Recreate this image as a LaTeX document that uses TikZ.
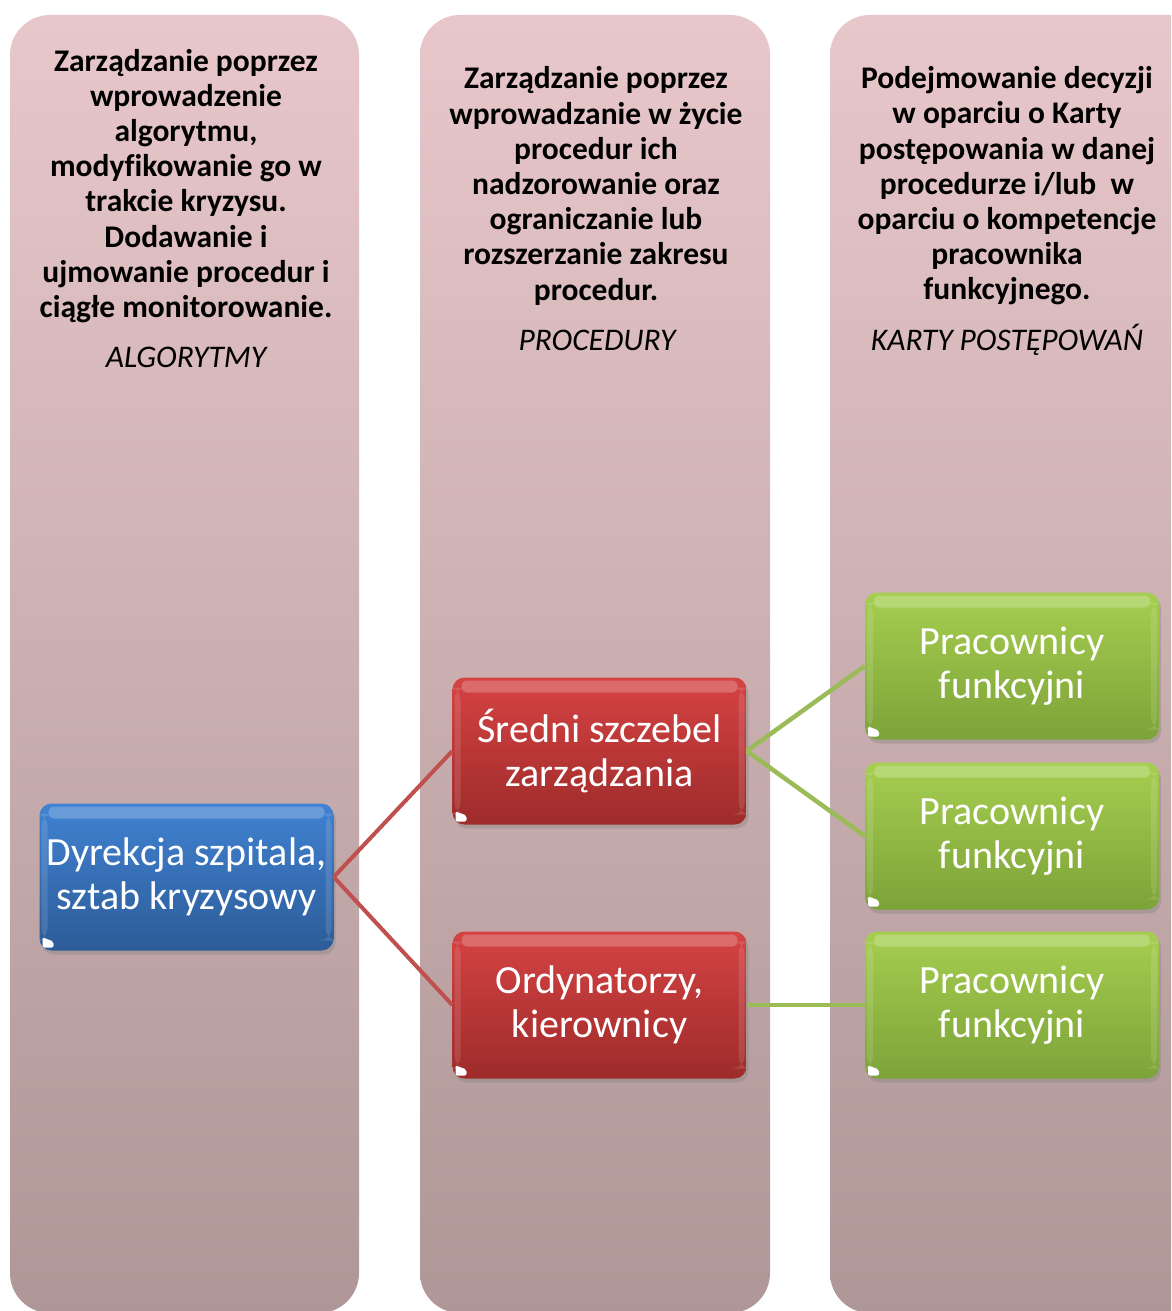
\documentclass[tikz,border=0pt]{standalone}
\usepackage{fontspec}
\setmainfont{Carlito}[Ligatures=NoCommon]
\usetikzlibrary{shadows}

\definecolor{colTop}{HTML}{E8C7CB}
\definecolor{colBot}{HTML}{AE9796}
\definecolor{blueTop}{HTML}{4182D2}
\definecolor{blueBot}{HTML}{2C5C98}
\definecolor{redTop}{HTML}{D64343}
\definecolor{redBot}{HTML}{9E2B2B}
\definecolor{greenTop}{HTML}{A6CE50}
\definecolor{greenBot}{HTML}{7CA338}
\definecolor{redLine}{HTML}{C0504D}
\definecolor{greenLine}{HTML}{9BBB59}

\tikzset{
  column/.style={rounded corners=40pt, top color=colTop, bottom color=colBot, draw=none},
  headtext/.style={align=center, font=\bfseries\fontsize{31.5}{35.2}\selectfont, inner sep=0pt},
  tagtext/.style={align=center, font=\itshape\fontsize{31.5}{35}\selectfont, inner sep=0pt},
  glossbox/.style={rounded corners=12pt, minimum width=294pt, minimum height=147pt,
    inner sep=0pt, text=white, align=center, font=\fontsize{40}{44}\selectfont,
    drop shadow={opacity=0.35, shadow xshift=2pt, shadow yshift=-4pt},
    path picture={
      \fill[white, opacity=0.22, rounded corners=5pt]
        ([xshift=9pt,yshift=-3pt]path picture bounding box.north west)
        rectangle ([xshift=-9pt,yshift=-15pt]path picture bounding box.north east);
      \fill[white, opacity=0.12]
        ([xshift=2pt,yshift=-10pt]path picture bounding box.north west)
        rectangle ([xshift=8pt,yshift=10pt]path picture bounding box.south west);
      \fill[white, opacity=0.12]
        ([xshift=-8pt,yshift=-10pt]path picture bounding box.north east)
        rectangle ([xshift=-2pt,yshift=10pt]path picture bounding box.south east);
      \fill[white, rounded corners=2pt]
        ([xshift=3pt,yshift=3pt]path picture bounding box.south west)
        -- ++(11pt,0pt) -- ++(0pt,6pt) -- ++(-11pt,4pt) -- cycle;
    }},
  bluebox/.style={glossbox, top color=blueTop, bottom color=blueBot},
  redbox/.style={glossbox, top color=redTop, bottom color=redBot},
  greenbox/.style={glossbox, top color=greenTop, bottom color=greenBot},
  redlink/.style={draw=redLine, line width=4pt},
  greenlink/.style={draw=greenLine, line width=4.5pt}
}

\begin{document}
\begin{tikzpicture}[x=1pt, y=-1pt]
  \useasboundingbox (0,0) rectangle (1171,1311);
  \clip (0,0) rectangle (1171,1311);

  % three background columns
  \fill[white] (0,0) rectangle (1171,1311);
  \path[column] (10,15) rectangle (359,1313);
  \path[column] (420,15) rectangle (770,1313);
  \path[column] (830,15) rectangle (1215,1313);

  % column headings
  \node[headtext] (h1) at (186,186) {Zarządzanie poprzez\\wprowadzenie\\algorytmu,\\modyfikowanie go w\\trakcie kryzysu.\\Dodawanie i\\ujmowanie procedur i\\ciągłe monitorowanie.};
  \node[tagtext] (t1) at (186,357) {ALGORYTMY};

  \node[headtext] (h2) at (596,186) {Zarządzanie poprzez\\wprowadzanie w życie\\procedur ich\\nadzorowanie oraz\\ograniczanie lub\\rozszerzanie zakresu\\procedur.};
  \node[tagtext] (t2) at (597,340) {PROCEDURY};

  \node[headtext] (h3) at (1007,186) {Podejmowanie decyzji\\w oparciu o Karty\\postępowania w danej\\procedurze i/lub\ \ w\\oparciu o kompetencje\\pracownika\\funkcyjnego.};
  \node[tagtext] (t3) at (1007,340) {KARTY POSTĘPOWAŃ};

  % hierarchy boxes
  \node[bluebox] (dyr) at (186.5,877) {Dyrekcja szpitala,\\sztab kryzysowy};
  \node[redbox] (sred) at (599.5,751) {Średni szczebel\\zarządzania};
  \node[redbox] (ord) at (599.5,1005) {Ordynatorzy,\\kierownicy};
  \node[greenbox] (p1) at (1012,666) {Pracownicy\\funkcyjni};
  \node[greenbox] (p2) at (1012,836) {Pracownicy\\funkcyjni};
  \node[greenbox] (p3) at (1012,1005) {Pracownicy\\funkcyjni};

  % connectors
  \draw[redlink] (dyr.east) -- (sred.west);
  \draw[redlink] (dyr.east) -- (ord.west);
  \draw[greenlink] (sred.east) -- (p1.west);
  \draw[greenlink] (sred.east) -- (p2.west);
  \draw[greenlink] (ord.east) -- (p3.west);
\end{tikzpicture}
\end{document}
